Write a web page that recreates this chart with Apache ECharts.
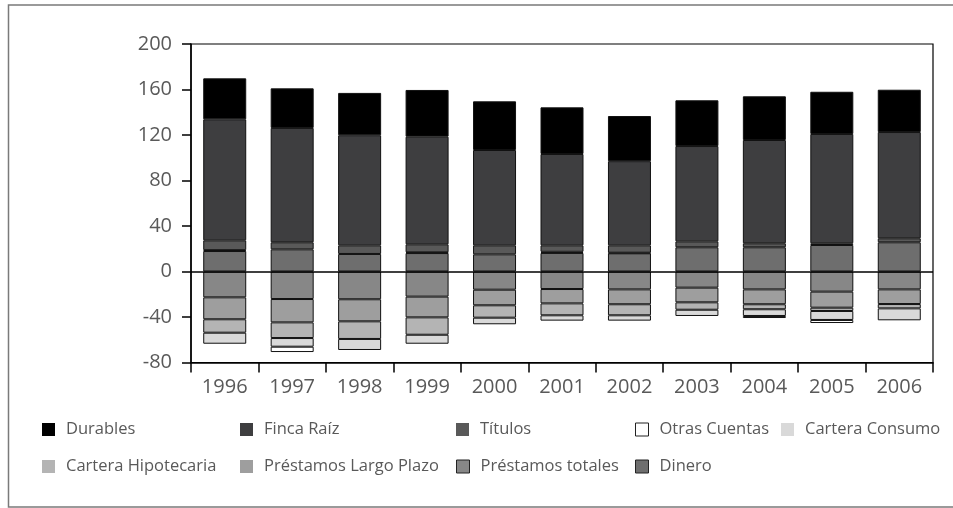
<!DOCTYPE html>
<html>
<head>
<meta charset="utf-8">
<script src="https://cdn.jsdelivr.net/npm/echarts@6/dist/echarts.min.js"></script>
<style>
  html, body { margin: 0; padding: 0; background: #fff; }
  #chart { width: 953px; height: 508px; }
</style>
</head>
<body>
<div id="chart"></div>
<script>
// Years on the horizontal axis
const years = ['1996', '1997', '1998', '1999', '2000', '2001', '2002', '2003', '2004', '2005', '2006'];

// Assets (positive) and liabilities (negative), per year
const dinero = [18, 19.5, 15.4, 16.2, 15.1, 16.3, 16, 21.3, 21.3, 23.3, 25.7];
const prestamosTotales = [-22.7, -24.2, -24.4, -22.1, -16, -15.4, -15.7, -14.2, -15.7, -17.7, -15.7];
const prestamosLargoPlazo = [-19.3, -20.5, -19.4, -18.2, -13.7, -12.6, -13.1, -12.9, -13.1, -14.1, -12.9];
const carteraHipotecaria = [-11.8, -13.8, -15.5, -15.3, -10.9, -10.5, -9.7, -6.5, -4.4, -2.9, -3.8];
const carteraConsumo = [-9.7, -7.6, -9.7, -7.9, -5.8, -4.7, -4.7, -5.5, -5.9, -7.9, -10.5];
const otrasCuentas = [0.8, -4.7, null, 0.7, null, 1.0, 0.5, null, -1.8, -2.7, null];
const titulos = [8.6, 6.2, 7.6, 7.0, 7.9, 5.7, 6.5, 5.2, 3.5, 1.5, 3.5];
const fincaRaiz = [106.4, 100.5, 96.8, 94.6, 83.8, 80.3, 74, 83.8, 90.8, 96.1, 93.4];
const durables = [36, 34.8, 37.2, 41.1, 42.8, 41, 39.7, 40.2, 38.4, 37.1, 37.2];

// Value axis ticks
const yMin = -80, yMax = 200, yStep = 40;

const textColor = '#595959';
const fontFamily = '"Open Sans", "Noto Sans", sans-serif';

// Stacking order: positives stack Dinero -> Otras -> Títulos -> Finca -> Durables,
// negatives stack Préstamos totales -> Largo Plazo -> Hipotecaria -> Consumo -> Otras
const seriesDefs = [
  { name: 'Dinero', data: dinero, color: '#6e6e6e', legendBorder: true },
  { name: 'Préstamos totales', data: prestamosTotales, color: '#878787', legendBorder: true },
  { name: 'Préstamos Largo Plazo', data: prestamosLargoPlazo, color: '#9e9e9e', legendBorder: false },
  { name: 'Cartera Hipotecaria', data: carteraHipotecaria, color: '#b4b4b4', legendBorder: false },
  { name: 'Cartera Consumo', data: carteraConsumo, color: '#d9d9d9', legendBorder: false },
  { name: 'Otras Cuentas', data: otrasCuentas, color: '#ffffff', legendBorder: true },
  { name: 'Títulos', data: titulos, color: '#595959', legendBorder: false },
  { name: 'Finca Raíz', data: fincaRaiz, color: '#3e3e40', legendBorder: false },
  { name: 'Durables', data: durables, color: '#000000', legendBorder: false }
];

// Legend slots (two rows)
const legendSlots = [
  { name: 'Durables', left: 42, top: 421 },
  { name: 'Finca Raíz', left: 240, top: 421 },
  { name: 'Títulos', left: 456, top: 421 },
  { name: 'Otras Cuentas', left: 635, top: 421 },
  { name: 'Cartera Consumo', left: 781, top: 421 },
  { name: 'Cartera Hipotecaria', left: 42, top: 458 },
  { name: 'Préstamos Largo Plazo', left: 240, top: 458 },
  { name: 'Préstamos totales', left: 456, top: 458 },
  { name: 'Dinero', left: 635, top: 458 }
];

const chart = echarts.init(document.getElementById('chart'), null, { renderer: 'canvas' });

const series = seriesDefs.map((s, i) => {
  const out = {
    name: s.name,
    type: 'bar',
    stack: 'total',
    data: s.data,
    barWidth: 43,
    itemStyle: { color: s.color, borderColor: '#111', borderWidth: 1 },
    emphasis: { disabled: true }
  };
  if (i === seriesDefs.length - 1) {
    out.markLine = {
      silent: true,
      symbol: 'none',
      label: { show: false },
      lineStyle: { color: '#000', width: 1.5, type: 'solid' },
      data: [{ yAxis: 0 }],
      z: 10
    };
  }
  return out;
});

const legends = legendSlots.map(slot => {
  const def = seriesDefs.find(s => s.name === slot.name);
  return {
    left: slot.left,
    top: slot.top,
    padding: 0,
    itemWidth: 13,
    itemHeight: 13,
    icon: 'rect',
    selectedMode: false,
    data: [{
      name: slot.name,
      itemStyle: def.legendBorder
        ? { color: def.color, borderColor: '#222', borderWidth: 1 }
        : { color: def.color, borderWidth: 0 }
    }],
    textStyle: { color: textColor, fontSize: 16.5, fontFamily: fontFamily, padding: [0, 0, 0, 6] }
  };
});

chart.setOption({
  animation: false,
  backgroundColor: '#fff',
  grid: {
    left: 191, right: 20, top: 44, bottom: 145.5,
    show: true, borderColor: '#000', borderWidth: 1.2, backgroundColor: 'transparent'
  },
  legend: legends,
  xAxis: {
    type: 'category',
    data: years,
    axisLine: { onZero: false, lineStyle: { color: '#000', width: 1.5 } },
    axisTick: { show: true, length: 10, lineStyle: { color: '#000', width: 1.5 } },
    axisLabel: { color: textColor, fontSize: 20, fontFamily: fontFamily, margin: 15 }
  },
  yAxis: {
    type: 'value',
    min: yMin, max: yMax, interval: yStep,
    axisLine: { show: true, lineStyle: { color: '#000', width: 1.5 } },
    axisTick: { show: true, length: 9, lineStyle: { color: '#000', width: 1.5 } },
    splitLine: { show: false },
    axisLabel: { color: textColor, fontSize: 20, fontFamily: fontFamily, margin: 19 }
  },
  series: series,
  graphic: [{
    type: 'polyline',
    silent: true,
    shape: { points: [[953, 5], [8.5, 5], [8.5, 507], [953, 507]] },
    style: { stroke: '#7a7a7a', lineWidth: 1.5, fill: null }
  }]
});
</script>
</body>
</html>
